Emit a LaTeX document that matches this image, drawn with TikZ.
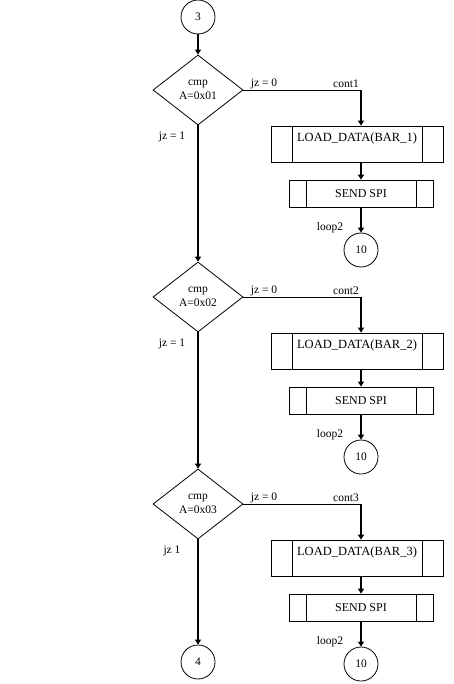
\documentclass[tikz,border=0pt]{standalone}
\usepackage{fontspec}
\setmainfont{Liberation Serif}
\usetikzlibrary{shapes.geometric,arrows.meta}

\begin{document}
\begin{tikzpicture}[x=1pt,y=-1pt,>={Triangle[length=5pt,width=6pt]},
    proc/.style={draw,line width=0.8pt,inner sep=0pt,
      path picture={\draw[line width=0.8pt]
        ([xshift=#1]path picture bounding box.north west) --
        ([xshift=#1]path picture bounding box.south west)
        ([xshift=-#1]path picture bounding box.north east) --
        ([xshift=-#1]path picture bounding box.south east);}}]
  \tikzstyle{every node}=[font=\fontsize{11.5}{13.5}\selectfont]
  \tikzstyle{connector}=[circle,draw,line width=0.8pt,minimum size=34pt,inner sep=0pt]
  \tikzstyle{decision}=[diamond,draw,line width=0.8pt,minimum width=90pt,
    minimum height=70pt,inner sep=0pt,align=center]
  \tikzstyle{flow}=[->,line width=2pt]
  \tikzstyle{link}=[line width=0.8pt]
  \useasboundingbox (0,0) rectangle (453,684);

  \node[connector] (c3) at (198,17) {3};
  \node[connector] (c4) at (198,662) {4};

  \foreach \i/\y/\yes in {1/90/jz = 1,2/297/jz = 1,3/504/jz 1} {
    \node[decision] (d\i) at (198,\y) {cmp\\A=0x0\i};
    \node[proc=21pt,minimum width=172pt,minimum height=36pt,
      text height=8.5pt,text depth=14pt,font=\fontsize{12.5}{14}\selectfont]
      (ld\i) at (357,\y+54) {LOAD\_DATA(BAR\_\i)};
    \node[proc=17pt,minimum width=144pt,minimum height=27pt,
      font=\fontsize{12}{14}\selectfont] (sp\i) at (361,\y+103.5) {SEND SPI};
    \node[connector] (e\i) at (361,\y+160) {10};
    \coordinate (k\i) at (sp\i.north |- d\i.east);
    \node (no\i) at (264,\y-6) {jz = 0};
    \node (ct\i) at (346,\y-6) {cont\i};
    \node (yes\i) at (172,\y+47) {\yes};
    \node (lp\i) at (330,\y+138) {loop2};
    \draw[link] (d\i.east) -- (k\i);
    \draw[flow] (k\i) -- (k\i |- ld\i.north);
    \draw[flow] (sp\i.north |- ld\i.south) -- (sp\i.north);
    \draw[flow] (sp\i) -- (e\i);
  }

  \draw[flow] (c3) -- (d1);
  \draw[flow] (d1) -- (d2);
  \draw[flow] (d2) -- (d3);
  \draw[flow] (d3) -- (c4);
\end{tikzpicture}
\end{document}
